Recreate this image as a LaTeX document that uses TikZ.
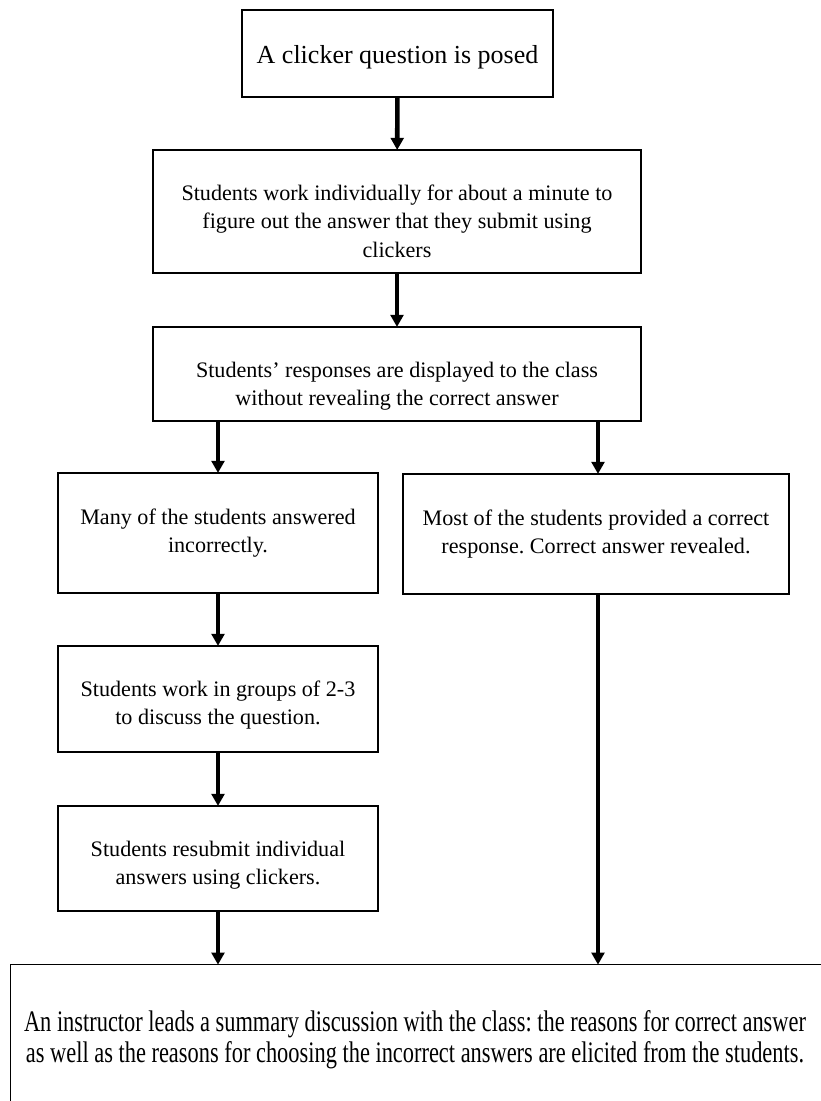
\documentclass[tikz,border=0pt]{standalone}
\usepackage{fontspec}
\setmainfont{Liberation Serif}
\frenchspacing
\usetikzlibrary{arrows.meta}
\tikzset{
  boxnode/.style={draw=black, line width=1.1pt, inner sep=0pt, fill=white},
  txt/.style={align=center, inner sep=0pt, font=\fontsize{16.6pt}{21.4pt}\selectfont},
  arr/.style={line width=3.4pt, -{Triangle[width=9.5pt,length=9pt]}, shorten >=-0.5pt}
}
\begin{document}
\begin{tikzpicture}[x=0.75pt,y=-0.75pt]
\useasboundingbox (0,0) rectangle (821,1101);
\fill[white] (0,0) rectangle (821,1101);
\clip (0,0) rectangle (821,1101);
% boxes
\node[boxnode, minimum width=311*0.75pt, minimum height=87*0.75pt] (b1) at (397.5,53.5) {};
\node[txt, font=\fontsize{19.5pt}{23pt}\selectfont] (t1) at (397.5,57) {A clicker question is posed};
\node[boxnode, minimum width=488*0.75pt, minimum height=123*0.75pt] (b2) at (397,211.5) {};
\node[txt] (t2) at (397,221) {Students work individually for about a minute to\\figure out the answer that they submit using\\clickers};
\node[boxnode, minimum width=488*0.75pt, minimum height=94*0.75pt] (b3) at (397,374) {};
\node[txt] (t3) at (397,386) {Students’ responses are displayed to the class\\without revealing the correct answer};
\node[boxnode, minimum width=320*0.75pt, minimum height=120*0.75pt] (b4) at (218,533) {};
\node[txt] (t4) at (218,533) {Many of the students answered\\incorrectly.};
\node[boxnode, minimum width=386*0.75pt, minimum height=120*0.75pt] (br) at (596,534) {};
\node[txt] (tr) at (596,534) {Most of the students provided a correct\\response. Correct answer revealed.};
\node[boxnode, minimum width=320*0.75pt, minimum height=106*0.75pt] (b5) at (218,699) {};
\node[txt] (t5) at (218,705) {Students work in groups of 2-3\\to discuss the question.};
\node[boxnode, minimum width=320*0.75pt, minimum height=105*0.75pt] (b6) at (218,858.5) {};
\node[txt] (t6) at (218,865) {Students resubmit individual\\answers using clickers.};
\node[boxnode, anchor=north west, minimum width=830*0.75pt, minimum height=160*0.75pt] (b7) at (10,964) {};
\node[align=center, inner sep=0pt] (t7) at (415,1041) {\scalebox{1}[1.33]{\fontsize{16.8pt}{17.5pt}\selectfont\begin{tabular}{@{}c@{}}An instructor leads a summary discussion with the class: the reasons for correct answer\\as well as the reasons for choosing the incorrect answers are elicited from the students.\end{tabular}}};
% connectors
\coordinate (lx) at (218,0);
\coordinate (rx) at (598,0);
\draw[arr] (b1) -- (b2);
\draw[arr] (b2) -- (b3);
\draw[arr] (lx |- b3.south) -- (lx |- b4.north);
\draw[arr] (rx |- b3.south) -- (rx |- br.north);
\draw[arr] (lx |- b4.south) -- (lx |- b5.north);
\draw[arr] (rx |- br.south) -- (rx |- b7.north);
\draw[arr] (lx |- b5.south) -- (lx |- b6.north);
\draw[arr] (lx |- b6.south) -- (lx |- b7.north);
\end{tikzpicture}
\end{document}
